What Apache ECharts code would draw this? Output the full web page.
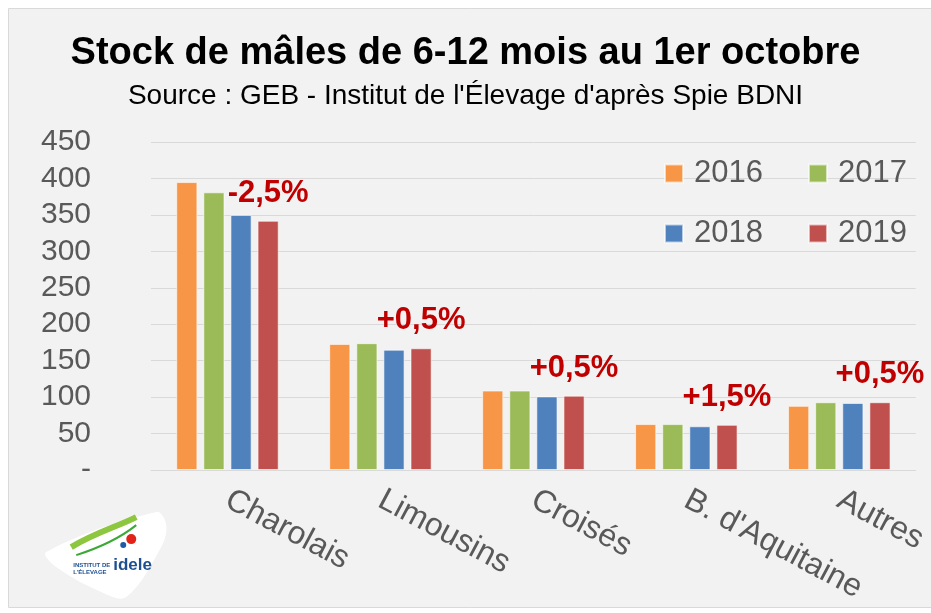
<!DOCTYPE html>
<html>
<head>
<meta charset="utf-8">
<script src="https://cdn.jsdelivr.net/npm/echarts@6/dist/echarts.min.js"></script>
<style>
  html, body { margin: 0; padding: 0; background: #fff; }
  #chart { width: 931px; height: 613px; }
</style>
</head>
<body>
<div id="chart"></div>
<script>
const categories = ['Charolais', 'Limousins', 'Croisés', "B. d'Aquitaine", 'Autres'];
const years = ['2016', '2017', '2018', '2019'];
const v2016 = [395, 173, 109, 63, 88];
const v2017 = [381, 174, 109, 63, 93];
const v2018 = [350, 165, 101, 60, 92];
const v2019 = [342, 167, 102, 62, 93];
const changes = ['-2,5%', '+0,5%', '+0,5%', '+1,5%', '+0,5%'];
const colors = ['#f79646', '#9bbb59', '#4f81bd', '#c0504d'];

const font = '"Liberation Sans", Arial, sans-serif';
const gray = '#595959';

const chart = echarts.init(document.getElementById('chart'));

const values = [v2016, v2017, v2018, v2019];
const series = years.map((y, i) => ({
  name: y,
  type: 'bar',
  data: values[i],
  barGap: '28%',
  barCategoryGap: '33%',
  itemStyle: { color: colors[i], borderColor: 'rgba(255,255,255,0.6)', borderWidth: 1 },
  label: i === 3 ? {
    show: true,
    position: 'top',
    distance: 12,
    formatter: (p) => changes[p.dataIndex],
    color: '#c00000',
    fontWeight: 'bold',
    fontSize: 31,
    fontFamily: font
  } : { show: false }
}));

const legendBase = {
  left: 659,
  itemWidth: 18,
  itemHeight: 18,
  itemGap: 45,
  icon: 'rect',
  textStyle: { fontSize: 31, color: gray, fontFamily: font, padding: [0, 0, 0, 6] }
};

chart.setOption({
  backgroundColor: '#fff',
  animation: false,
  graphic: [
    { type: 'rect', z: -10, shape: { x: 8.5, y: 8.5, width: 940, height: 599 },
      style: { fill: '#f2f2f2', stroke: '#d9d9d9', lineWidth: 1 } },
    { type: 'group', left: 45, top: 512, z: 5, children: [
      { type: 'polygon', shape: { points: [[5, 45], [115, 5], [125, 18], [120, 40], [85, 90], [60, 85], [15, 60]], smooth: 0.35 },
        style: { fill: '#ffffff' } },
      { type: 'bezierCurve', shape: { x1: 30, y1: 40, x2: 95, y2: 10, cpx1: 55, cpy1: 25, cpx2: 75, cpy2: 20 },
        style: { stroke: '#8dc63f', lineWidth: 6, fill: 'none' } },
      { type: 'bezierCurve', shape: { x1: 35, y1: 48, x2: 95, y2: 18, cpx1: 60, cpy1: 40, cpx2: 80, cpy2: 30 },
        style: { stroke: '#3aa935', lineWidth: 2, fill: 'none' } },
      { type: 'circle', shape: { cx: 90, cy: 32, r: 5 }, style: { fill: '#e2231a' } },
      { type: 'circle', shape: { cx: 82, cy: 38, r: 3 }, style: { fill: '#1d5aa8' } },
      { type: 'text', style: { x: 32, y: 55, text: "INSTITUT DE\nL'ÉLEVAGE", fontSize: 6, fontWeight: 'bold', fill: '#1d4f91', fontFamily: font, lineHeight: 7 } },
      { type: 'text', style: { x: 72, y: 50, text: 'idele', fontSize: 17, fontWeight: 'bold', fill: '#1d4f91', fontFamily: font } }
    ] }
  ],
  title: [
    { text: 'Stock de mâles de 6-12 mois au 1er octobre', left: 'center', top: 30,
      textStyle: { fontSize: 38, fontWeight: 'bold', color: '#000', fontFamily: font } },
    { text: "Source : GEB - Institut de l'Élevage d'après Spie BDNI", left: 'center', top: 77,
      textStyle: { fontSize: 28, fontWeight: 'normal', color: '#000', fontFamily: font } }
  ],
  legend: [
    Object.assign({ top: 153, data: ['2016', '2017'] }, legendBase),
    Object.assign({ top: 213, data: ['2018', '2019'] }, legendBase)
  ],
  grid: { left: 151, right: 14, top: 142, bottom: 143, containLabel: false },
  xAxis: {
    type: 'category',
    data: categories,
    axisLine: { lineStyle: { color: '#d9d9d9', width: 1 } },
    axisTick: { show: false },
    axisLabel: {
      interval: 0,
      rotate: -28,
      margin: 28,
      fontSize: 32,
      color: gray,
      fontFamily: font
    }
  },
  yAxis: {
    type: 'value',
    min: 0,
    max: 450,
    interval: 50,
    axisLine: { show: false },
    axisTick: { show: false },
    splitLine: { lineStyle: { color: '#d9d9d9', width: 1 } },
    axisLabel: {
      margin: 60,
      fontSize: 30,
      color: gray,
      fontFamily: font,
      formatter: (v) => v === 0 ? '-' : String(v)
    }
  },
  series: series
});
</script>
</body>
</html>
